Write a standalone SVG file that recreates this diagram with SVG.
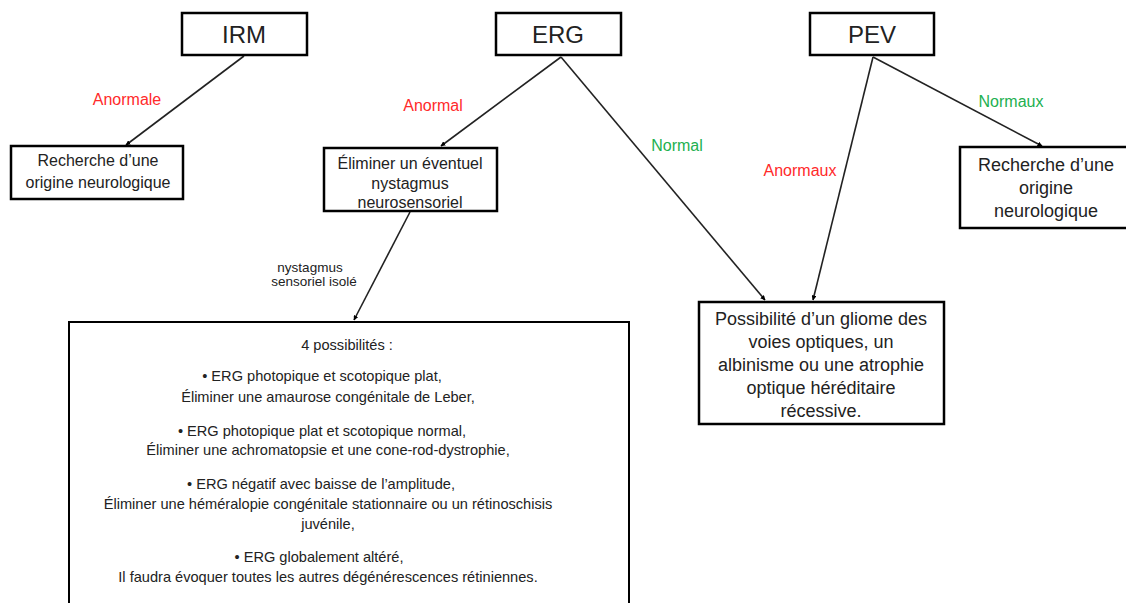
<svg xmlns="http://www.w3.org/2000/svg" width="1126" height="603" viewBox="0 0 1126 603">
<style>
.box{fill:#fff;stroke:#000;stroke-width:2.5}
.t{font-family:"Liberation Sans",Arial,sans-serif;fill:#222;text-anchor:middle}
.big{font-size:24px}
.n{font-size:14.6px}
.b16{font-size:16px}
.b18{font-size:18px}
.lbl{font-size:16px}
.s{font-size:13.5px}
.red{fill:#ff2a2a}
.grn{fill:#22b04f}
.c{stroke:#222;stroke-width:1.6;fill:none;marker-end:url(#ah)}
</style>
<defs>
<marker id="ah" viewBox="0 0 10 10" refX="9" refY="5" markerWidth="5" markerHeight="5" orient="auto" markerUnits="userSpaceOnUse">
<path d="M0,0 L10,5 L0,10 z" fill="#000"/>
</marker>
</defs>
<rect width="1126" height="603" fill="#fff"/>
<g id="connectors">
<line class="c" x1="244" y1="56" x2="126" y2="145"/>
<line class="c" x1="561" y1="57" x2="441" y2="146"/>
<line class="c" x1="561" y1="57" x2="765" y2="300"/>
<line class="c" x1="873" y1="57" x2="813" y2="300"/>
<line class="c" x1="873" y1="57" x2="1042" y2="146"/>
<line class="c" x1="410" y1="212" x2="354" y2="320"/>
<text class="t lbl red" x="127" y="105">Anormale</text>
<text class="t lbl red" x="433" y="111">Anormal</text>
<text class="t lbl grn" x="677" y="151">Normal</text>
<text class="t lbl red" x="800" y="176">Anormaux</text>
<text class="t lbl grn" x="1011" y="107">Normaux</text>
<text class="t s" x="310" y="272">nystagmus</text>
<text class="t s" x="314" y="286">sensoriel isolé</text>
</g>
<g id="irm">
<rect class="box" x="182" y="13" width="125" height="42"/>
<text class="t big" x="244" y="43">IRM</text>
</g>
<g id="erg">
<rect class="box" x="496" y="13" width="125" height="42"/>
<text class="t big" x="558" y="43">ERG</text>
</g>
<g id="pev">
<rect class="box" x="810" y="13" width="124" height="42"/>
<text class="t big" x="872" y="43">PEV</text>
</g>
<g id="recherche1">
<rect class="box" x="11" y="146" width="172" height="53"/>
<text class="t b16" x="98" y="166">Recherche d’une</text>
<text class="t b16" x="98" y="188">origine neurologique</text>
</g>
<g id="eliminer">
<rect class="box" x="324" y="148" width="173" height="63"/>
<text class="t b16" x="410" y="169">Éliminer un éventuel</text>
<text class="t b16" x="410" y="189">nystagmus</text>
<text class="t b16" x="410" y="208">neurosensoriel</text>
</g>
<g id="recherche2">
<rect class="box" x="960" y="147" width="168" height="81"/>
<text class="t b18" x="1046" y="171">Recherche d’une</text>
<text class="t b18" x="1046" y="194">origine</text>
<text class="t b18" x="1046" y="217">neurologique</text>
</g>
<g id="possibilite">
<rect class="box" x="699" y="302" width="245" height="122"/>
<text class="t b18" x="821" y="325">Possibilité d’un gliome des</text>
<text class="t b18" x="821" y="348">voies optiques, un</text>
<text class="t b18" x="821" y="371">albinisme ou une atrophie</text>
<text class="t b18" x="821" y="394">optique héréditaire</text>
<text class="t b18" x="821" y="417">récessive.</text>
</g>
<g id="possibilites4">
<rect class="box" x="69" y="322" width="560" height="290" style="stroke-width:2"/>
<text class="t n" x="347" y="350">4 possibilités :</text>
<text class="t n" x="322" y="381">•  ERG photopique et scotopique plat,</text>
<text class="t n" x="328" y="402">Éliminer une amaurose congénitale de Leber,</text>
<text class="t n" x="322" y="436">•  ERG photopique plat et scotopique normal,</text>
<text class="t n" x="328" y="455">Éliminer une achromatopsie et une cone-rod-dystrophie,</text>
<text class="t n" x="321" y="489">•  ERG négatif avec baisse de l’amplitude,</text>
<text class="t n" x="328" y="509">Éliminer une héméralopie congénitale stationnaire ou un rétinoschisis</text>
<text class="t n" x="328" y="529">juvénile,</text>
<text class="t n" x="319" y="562">•  ERG globalement altéré,</text>
<text class="t n" x="328" y="582">Il faudra évoquer toutes les autres dégénérescences rétiniennes.</text>
</g>
</svg>
